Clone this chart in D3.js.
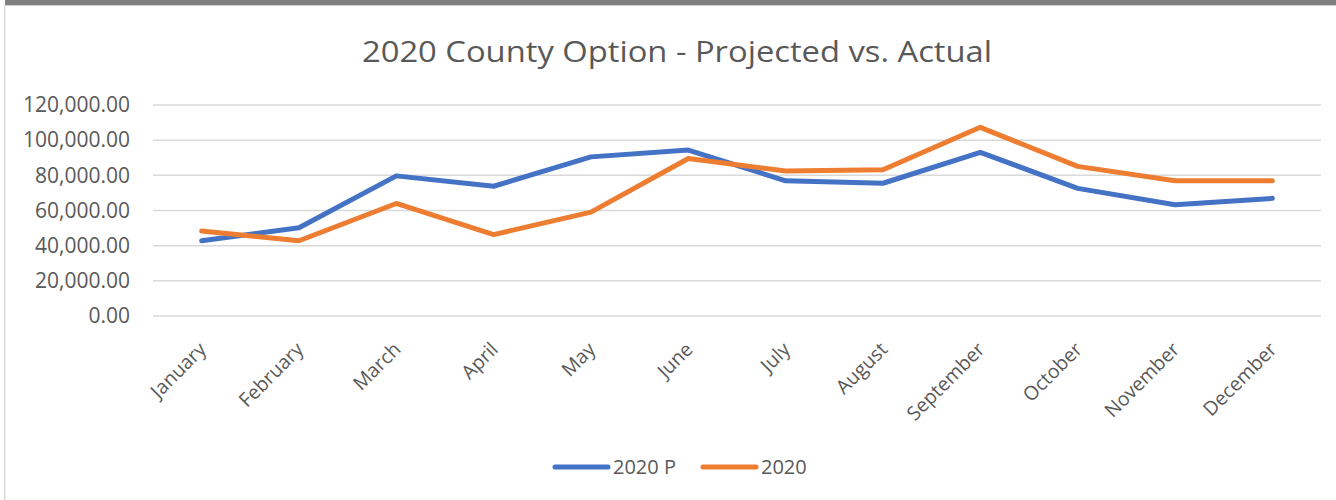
<!DOCTYPE html>
<html>
<head>
<meta charset="utf-8">
<script src="https://cdn.jsdelivr.net/npm/d3@7"></script>
<style>
  html, body { margin: 0; padding: 0; background: #fff; }
  text { font-family: "Open Sans", "Liberation Sans", sans-serif; fill: #595959; }
</style>
</head>
<body>
<div id="chart"></div>
<script>
/* DATA */
const months = ["January", "February", "March", "April", "May", "June",
    "July", "August", "September", "October", "November", "December"]
const projected = [42800, 50200, 79700, 73800, 90500, 94400, 76900, 75500, 93100, 72600, 63300, 66900]
const actual = [48300, 42800, 64000, 46300, 59100, 89600, 82500, 83200, 107300, 85100, 76900, 76900]
const yTicks = [0, 20000, 40000, 60000, 80000, 100000, 120000]
const seriesNames = ["2020 P", "2020"]
const seriesColors = ["#4472C4", "#ED7D31"]

const W = 1336, H = 500
const plot = { left: 153, right: 1321, top: 105, bottom: 316 }

var svg = d3.select("#chart")
    .append("svg")
    .attr("width", W)
    .attr("height", H)

// frame: dark bar on top, light border on the left
svg.append("rect").attr("x", 5).attr("y", 0).attr("width", W - 5).attr("height", 5).attr("fill", "#7f7f7f")
svg.append("rect").attr("x", 5).attr("y", 5).attr("width", W - 5).attr("height", 1).attr("fill", "#d0d0d0")
svg.append("rect").attr("x", 4).attr("y", 5).attr("width", 1.5).attr("height", H - 5).attr("fill", "#d9d9d9")

// title
svg.append("text")
    .attr("x", 677)
    .attr("y", 62)
    .attr("text-anchor", "middle")
    .attr("textLength", 630)
    .attr("lengthAdjust", "spacingAndGlyphs")
    .style("font-size", "30px")
    .text("2020 County Option - Projected vs. Actual")

// scales
var x = d3.scalePoint()
    .domain(months)
    .range([plot.left, plot.right])
    .padding(0.5)

var y = d3.scaleLinear()
    .domain([0, 120000])
    .range([plot.bottom, plot.top])

// gridlines
svg.append("g")
    .selectAll("line")
    .data(yTicks)
    .enter().append("line")
    .attr("x1", plot.left)
    .attr("x2", plot.right)
    .attr("y1", d => y(d))
    .attr("y2", d => y(d))
    .attr("stroke", "#d9d9d9")
    .attr("stroke-width", 1.5)

// y axis labels
var yAxis = svg.append("g")
    .attr("transform", "translate(138,0)")
    .call(d3.axisLeft(y).tickValues(yTicks).tickFormat(d3.format(",.2f")).tickSize(0).tickPadding(8))
yAxis.select(".domain").remove()
yAxis.selectAll("text")
    .style("font-size", "21px")
    .style("fill", "#595959")
    .style("font-family", "'Open Sans', sans-serif")

// x axis labels, rotated
svg.append("g")
    .selectAll("text")
    .data(months)
    .enter().append("text")
    .attr("text-anchor", "end")
    .attr("transform", d => "translate(" + (x(d) - 4) + ",341) rotate(-45)")
    .attr("dy", "0.7em")
    .style("font-size", "19.5px")
    .text(d => d)

// lines
var line = d3.line()
    .x((d, i) => x(months[i]))
    .y(d => y(d))

svg.append("g")
    .selectAll("path")
    .data([projected, actual])
    .enter().append("path")
    .attr("d", line)
    .attr("fill", "none")
    .attr("stroke", (d, i) => seriesColors[i])
    .attr("stroke-width", 5)
    .attr("stroke-linecap", "round")
    .attr("stroke-linejoin", "round")

// legend
const legendX = [555, 703]
var legend = svg.append("g")
    .selectAll("g")
    .data(seriesNames)
    .enter().append("g")
    .attr("transform", (d, i) => "translate(" + legendX[i] + ",467)")

legend.append("line")
    .attr("x1", 0)
    .attr("x2", 53)
    .attr("stroke", (d, i) => seriesColors[i])
    .attr("stroke-width", 5)
    .attr("stroke-linecap", "round")

legend.append("text")
    .attr("x", 58)
    .attr("dy", "0.36em")
    .style("font-size", "20px")
    .text(d => d)
</script>
</body>
</html>
